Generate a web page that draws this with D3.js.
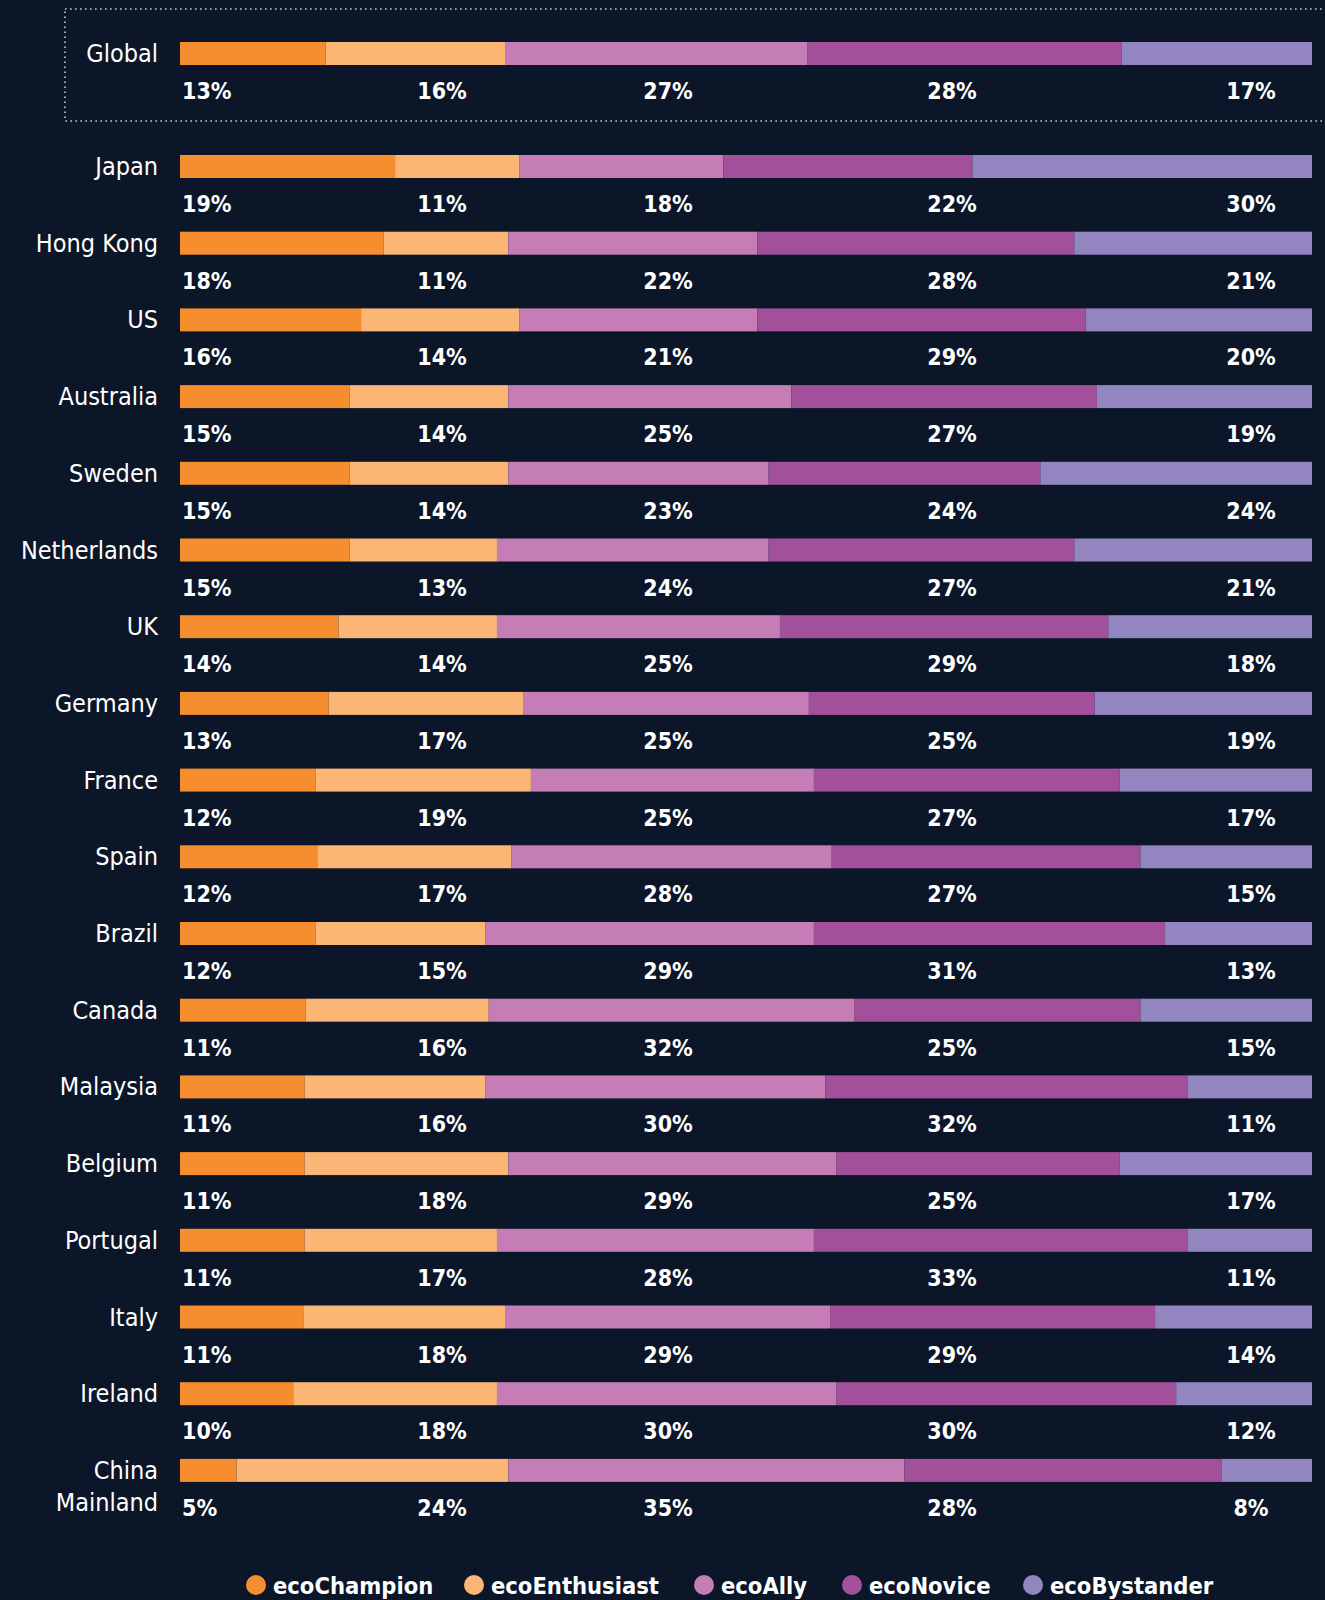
<!DOCTYPE html>
<html>
<head>
<meta charset="utf-8">
<script src="https://cdn.jsdelivr.net/npm/d3@7"></script>
<style>
  body { margin: 0; background: #0b1628; }
  svg { display: block; }
  text { font-family: "DejaVu Sans Condensed", "DejaVu Sans", sans-serif; fill: #fff; }
</style>
</head>
<body>
<svg width="1325" height="1600"></svg>
<script>
const svg = d3.select("svg");
const width = 1325, height = 1600;

const segments = ["ecoChampion", "ecoEnthusiast", "ecoAlly", "ecoNovice", "ecoBystander"];
const colors = ["#f68d2e", "#fbb676", "#c47eb5", "#a3509b", "#9385bf"];

const globalValues = [13, 16, 27, 28, 17];

const countries = ["Japan", "Hong Kong", "US", "Australia", "Sweden", "Netherlands", "UK",
    "Germany", "France", "Spain", "Brazil", "Canada", "Malaysia", "Belgium", "Portugal",
    "Italy", "Ireland", "China Mainland"];

const champion   = [19, 18, 16, 15, 15, 15, 14, 13, 12, 12, 12, 11, 11, 11, 11, 11, 10, 5];
const enthusiast = [11, 11, 14, 14, 14, 13, 14, 17, 19, 17, 15, 16, 16, 18, 17, 18, 18, 24];
const ally       = [18, 22, 21, 25, 23, 24, 25, 25, 25, 28, 29, 32, 30, 29, 28, 29, 30, 35];
const novice     = [22, 28, 29, 27, 24, 27, 29, 25, 27, 27, 31, 25, 32, 25, 33, 29, 30, 28];
const bystander  = [30, 21, 20, 19, 24, 21, 18, 19, 17, 15, 13, 15, 11, 17, 11, 14, 12, 8];

// rows table built from the arrays above
const seriesArrays = [champion, enthusiast, ally, novice, bystander];
const rows = [{name: "Global", values: globalValues}]
    .concat(countries.map((c, i) => ({name: c, values: seriesArrays.map(a => a[i])})));
const table = rows.map(r => {
    const o = {name: r.name};
    segments.forEach((s, j) => o[s] = r.values[j]);
    return o;
});

const barH = 23;
const x = d3.scaleLinear().domain([0, 1]).range([180, 1312]);
const yc = d3.scaleBand().domain(countries).range([155, 155 + countries.length * 76.7]);
const yTop = name => name === "Global" ? 42 : yc(name);
const color = d3.scaleOrdinal().domain(segments).range(colors);

// label columns
const cols = [
    {x: 182, anchor: "start"},
    {x: 442, anchor: "middle"},
    {x: 668, anchor: "middle"},
    {x: 952, anchor: "middle"},
    {x: 1251, anchor: "middle"}
];

// Global dotted box
svg.append("rect")
    .attr("x", 65).attr("y", 9)
    .attr("width", 1270).attr("height", 112)
    .attr("fill", "none")
    .attr("stroke", "#c8ccd4")
    .attr("stroke-width", 1.6)
    .attr("stroke-dasharray", "1.6 3.4");

const stack = d3.stack().keys(segments).offset(d3.stackOffsetExpand);
const stacked = stack(table);

svg.append("g").selectAll("g")
    .data(stacked)
    .join("g")
    .attr("fill", d => color(d.key))
    .selectAll("rect")
    .data(d => d)
    .join("rect")
    .attr("x", d => x(d[0]))
    .attr("y", d => yTop(d.data.name))
    .attr("width", d => x(d[1]) - x(d[0]))
    .attr("height", barH);

// country names
const names = svg.append("g").selectAll("text")
    .data(table)
    .join("text")
    .attr("text-anchor", "end")
    .attr("font-size", 25)
    .attr("x", 158)
    .attr("y", d => yTop(d.name) + 20);

names.each(function(d) {
    const t = d3.select(this);
    const parts = d.name === "China Mainland" ? ["China", "Mainland"] : [d.name];
    parts.forEach((p, i) => {
        t.append("tspan").attr("x", 158).attr("dy", i === 0 ? 0 : 32).text(p);
    });
});

// percentage labels
const lab = svg.append("g");
table.forEach(r => {
    segments.forEach((s, j) => {
        lab.append("text")
            .attr("x", cols[j].x)
            .attr("y", yTop(r.name) + 57)
            .attr("text-anchor", cols[j].anchor)
            .attr("font-size", 23)
            .attr("font-weight", "bold")
            .text(r[s] + "%");
    });
});

// legend
const legendX = [256, 474, 704, 852, 1033];
const legend = svg.append("g").selectAll("g")
    .data(segments)
    .join("g")
    .attr("transform", (d, i) => `translate(${legendX[i]},1585)`);
legend.append("circle")
    .attr("r", 10)
    .attr("fill", d => color(d));
legend.append("text")
    .attr("x", 17)
    .attr("y", 8.5)
    .attr("font-size", 23.5)
    .attr("font-weight", "bold")
    .text(d => d);
</script>
</body>
</html>
